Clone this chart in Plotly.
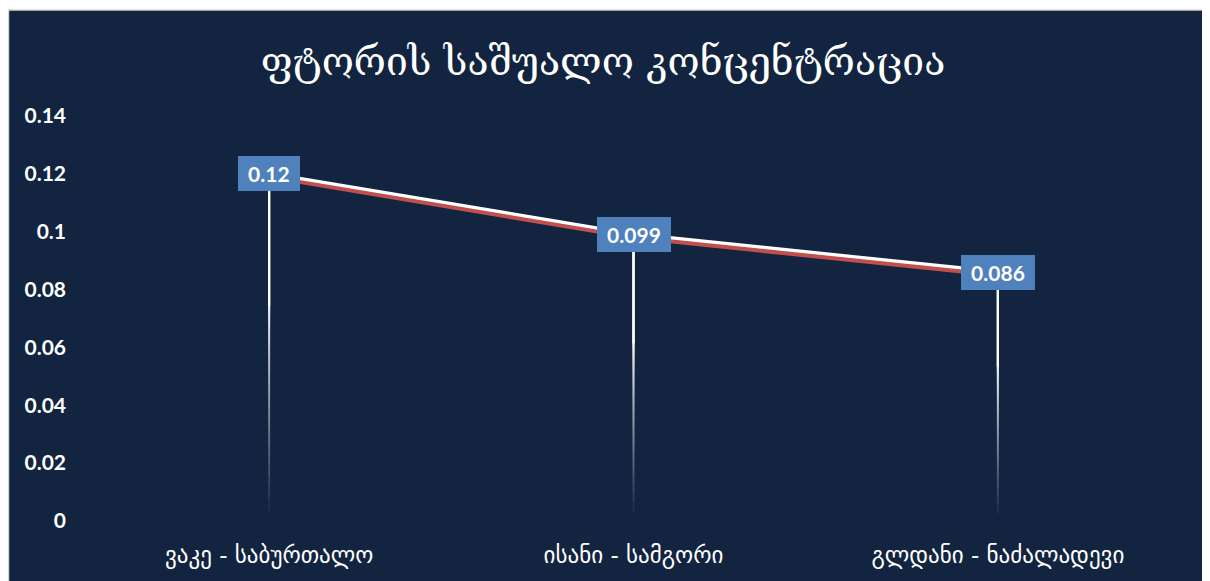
import plotly.graph_objects as go

categories = ["ვაკე - საბურთალო", "ისანი - სამგორი", "გლდანი - ნაძალადევი"]
values = [0.12, 0.099, 0.086]
value_labels = ["0.12", "0.099", "0.086"]
y_ticks = [0, 0.02, 0.04, 0.06, 0.08, 0.1, 0.12, 0.14]
y_tick_labels = ["0", "0.02", "0.04", "0.06", "0.08", "0.1", "0.12", "0.14"]
title_text = "ფტორის საშუალო კონცენტრაცია"

W, H = 1202, 574
ML, MR, MT, MB = 79, 30, 108, 61
PW = W - ML - MR
PH = H - MT - MB

BG = "#12243f"
fig = go.Figure()

fig.add_shape(type="rect", xref="paper", yref="paper",
              x0=(0.5 - ML) / PW, x1=(1205 - ML) / PW,
              y0=-(H + 20 - MT - PH) / PH - 0.1, y1=(H - MB - 2) / PH,
              fillcolor=BG, line=dict(color="#d4d4d4", width=1.5), layer="below")

# drop lines fading towards the axis: stacked translucent lines all starting at the value
alpha, K = 0.06, 70
for i, v in enumerate(values):
    for k in range(1, K + 1):
        g = 0.03 + 0.6 * (1 - (1 - alpha) ** (k - 1))
        fig.add_shape(type="line", xref="x", yref="y", x0=i, x1=i,
                      y0=v * g, y1=v,
                      line=dict(color=f"rgba(255,255,255,{alpha})", width=2),
                      layer="below")
    fig.add_shape(type="line", xref="x", yref="y", x0=i, x1=i,
                  y0=v * 0.62, y1=v, line=dict(color="white", width=2), layer="below")

# red shadow line (shifted axis)
shift = 3 * 0.14 / PH
fig.add_trace(go.Scatter(x=categories, y=values, mode="lines",
                         line=dict(color="#c0504d", width=4),
                         yaxis="y2", showlegend=False, hoverinfo="skip"))
fig.add_trace(go.Scatter(x=categories, y=values, mode="lines",
                         line=dict(color="#ffffff", width=4.5),
                         showlegend=False))

for c, v, t in zip(categories, values, value_labels):
    fig.add_annotation(x=c, y=v, text="<b>\u00a0" + t + "\u00a0</b>", showarrow=False,
                       font=dict(family="Lato, Open Sans, sans-serif", size=21, color="white"),
                       bgcolor="#4f81bd", borderpad=4, bordercolor="#4f81bd", borderwidth=1,
                       xanchor="center", yanchor="middle")

fig.update_layout(
    width=W, height=H,
    margin=dict(l=ML, r=MR, t=MT, b=MB, pad=0),
    paper_bgcolor="white", plot_bgcolor="rgba(0,0,0,0)",
    title=dict(text=title_text, x=595 / W, xanchor="center", y=1 - 53 / H, yanchor="middle",
               font=dict(family="DejaVu Serif, serif", size=39, color="white")),
    xaxis=dict(type="category", range=[-0.5, 2.5], showgrid=False, zeroline=False,
               showline=False, ticks="", ticklabelstandoff=18,
               tickfont=dict(family="DejaVu Sans, sans-serif", size=23, color="white")),
    yaxis=dict(range=[0, 0.14], tickvals=y_ticks, ticktext=y_tick_labels,
               showgrid=False, zeroline=False, showline=False, ticks="",
               ticklabelstandoff=20,
               tickfont=dict(family="Lato, sans-serif", size=21, color="white", weight="bold")),
    yaxis2=dict(range=[shift, 0.14 + shift], overlaying="y", visible=False),
)

fig.write_html("out.html")
